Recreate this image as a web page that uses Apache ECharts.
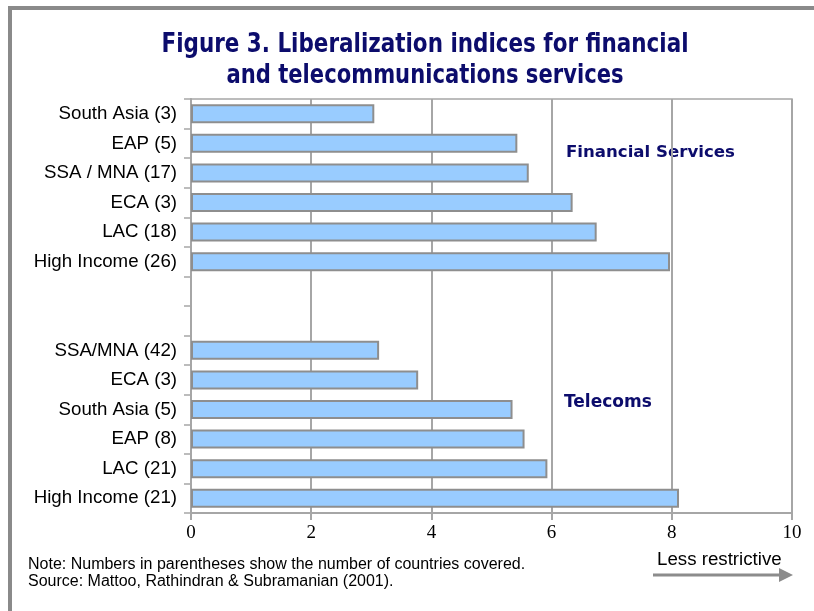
<!DOCTYPE html>
<html><head><meta charset="utf-8">
<script src="https://cdn.jsdelivr.net/npm/echarts@6/dist/echarts.min.js"></script>
<style>html,body{margin:0;padding:0;background:#fff}#c{width:814px;height:611px}</style>
</head><body><div id="c"></div>
<script>
// ---- data ----
const financialCategories = ['South Asia (3)', 'EAP (5)', 'SSA / MNA (17)', 'ECA (3)', 'LAC (18)', 'High Income (26)'];
const financialValues = [3.05, 5.43, 5.62, 6.35, 6.75, 7.97];
const gapCategories = ['', ''];
const telecomCategories = ['SSA/MNA (42)', 'ECA (3)', 'South Asia (5)', 'EAP (8)', 'LAC (21)', 'High Income (21)'];
const telecomValues = [3.13, 3.78, 5.35, 5.55, 5.93, 8.12];
const xMin = 0, xMax = 10, xInterval = 2;
const titleLines = ['Figure 3. Liberalization indices for financial', 'and telecommunications services'];
const noteLines = ['Note: Numbers in parentheses show the number of countries covered.', 'Source: Mattoo, Rathindran & Subramanian (2001).'];

const categories = financialCategories.concat(gapCategories, telecomCategories);
const values = financialValues.concat(gapCategories.map(() => null), telecomValues);

function scaleFor(text, font, target) {
  const ctx = document.createElement('canvas').getContext('2d');
  ctx.font = font;
  const w = ctx.measureText(text).width;
  return w > 0 ? target / w : 1;
}

const titleFont = 'bold 27px "DejaVu Sans"';
const navy = '#0c0c6c';
const gridGray = '#a6a6a6';

const chart = echarts.init(document.getElementById('c'), null, {renderer: 'canvas'});
chart.setOption({
  animation: false,
  backgroundColor: '#ffffff',
  grid: {left: 191, right: 22, top: 99, bottom: 98, show: true, borderColor: gridGray, borderWidth: 1.5, containLabel: false},
  xAxis: {
    type: 'value', min: xMin, max: xMax, interval: xInterval,
    axisLine: {show: true, lineStyle: {color: gridGray, width: 2}},
    axisTick: {show: true, length: 7, lineStyle: {color: gridGray, width: 2}},
    splitLine: {show: true, lineStyle: {color: gridGray, width: 2}},
    axisLabel: {color: '#000', fontFamily: '"Liberation Serif", serif', fontSize: 19, margin: 11}
  },
  yAxis: {
    type: 'category', inverse: true, data: categories,
    axisLine: {show: true, lineStyle: {color: gridGray, width: 2}},
    axisTick: {show: true, length: 7, lineStyle: {color: gridGray, width: 1.5}},
    axisLabel: {color: '#000', fontFamily: '"Liberation Sans", Arial, sans-serif', fontSize: 18.7, margin: 14, interval: 0}
  },
  series: [{
    type: 'bar', data: values, barWidth: 19,
    itemStyle: {color: '#99ccff', borderColor: '#8e8e8e', borderWidth: 2}
  }],
  graphic: [
    {type: 'rect', shape: {x: 8, y: 6, width: 806, height: 4}, style: {fill: '#8a8a8a'}, silent: true},
    {type: 'rect', shape: {x: 8, y: 6, width: 4, height: 605}, style: {fill: '#8a8a8a'}, silent: true},
    {type: 'text', x: 425, y: 45, scaleX: scaleFor(titleLines[0], titleFont, 527),
      style: {text: titleLines[0], font: titleFont, fill: navy, align: 'center', verticalAlign: 'middle'}},
    {type: 'text', x: 425, y: 76, scaleX: scaleFor(titleLines[1], titleFont, 397),
      style: {text: titleLines[1], font: titleFont, fill: navy, align: 'center', verticalAlign: 'middle'}},
    {type: 'text', x: 566, y: 153,
      style: {text: 'Financial Services', font: 'bold 16.6px "DejaVu Sans"', fill: navy, align: 'left', verticalAlign: 'middle'}},
    {type: 'text', x: 564, y: 403,
      style: {text: 'Telecoms', font: 'bold 17px "DejaVu Sans"', fill: navy, align: 'left', verticalAlign: 'middle'}},
    {type: 'text', x: 28, y: 565,
      style: {text: noteLines[0], font: '16px "Liberation Sans", Arial', fill: '#000', align: 'left', verticalAlign: 'middle'}},
    {type: 'text', x: 28, y: 582,
      style: {text: noteLines[1], font: '16px "Liberation Sans", Arial', fill: '#000', align: 'left', verticalAlign: 'middle'}},
    {type: 'text', x: 657, y: 560,
      style: {text: 'Less restrictive', font: '18.7px "Liberation Sans", Arial', fill: '#000', align: 'left', verticalAlign: 'middle'}},
    {type: 'line', shape: {x1: 653, y1: 575, x2: 780, y2: 575}, style: {stroke: '#8c8c8c', lineWidth: 3}},
    {type: 'polygon', shape: {points: [[779, 568], [793, 575], [779, 582]]}, style: {fill: '#8c8c8c'}}
  ]
});
</script>
</body></html>
